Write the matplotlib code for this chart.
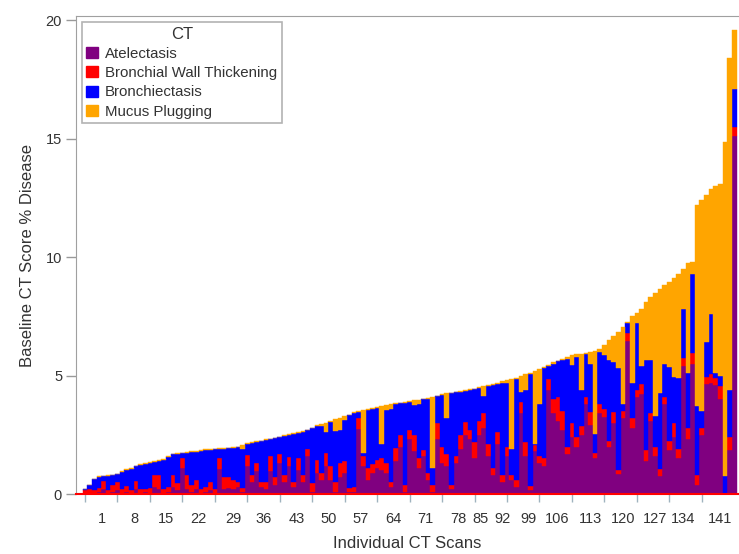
import numpy as np
import matplotlib.pyplot as plt
from matplotlib.patches import Patch

plt.rcParams['font.family'] = 'Liberation Sans'

# stacked components per CT scan (sorted by total), % disease
atelectasis = [
    0, .05, .05, .1, .2, .05, .1, .15, .05, .1,
    .05, .2, .05, .1, .05, .3, .2, .05, .1, .3,
    .15, 1.1, .2, .1, .2, .05, .1, .15, .05, 1.05,
    .2, .25, .2, .3, .1, 1.2, .5, .95, .3, .2,
    .95, .4, 1.3, .5, 1.2, .3, 1.0, .5, 1.6, .1,
    .9, .6, 1.2, .6, .1, .7, .9, .1, .1, 2.75,
    1.2, .6, .9, 1.1, 1.0, .9, .3, 1.4, 2.0, .1,
    2.3, 1.8, 1.1, 1.6, .6, .1, 2.3, 1.3, 1.2, .2,
    1.3, 1.9, 2.5, 2.3, 1.5, 2.5, 2.8, 1.6, .8, 2.1,
    .5, 1.6, .6, .3, 3.4, 1.6, .15, 1.8, 1.3, 1.2,
    4.4, 3.4, 3.1, 2.7, 1.7, 2.4, 2.0, 2.5, 3.8, 2.9,
    1.5, 3.4, 3.25, 2.0, 3.0, .85, 3.2, 6.45, 2.8, 4.1,
    4.2, 1.4, 3.1, 1.6, .75, 3.8, 1.85, 2.4, 1.5, 5.4,
    2.3, 5.5, .4, 2.5, 4.65, 4.7, 4.6, 4.0, 0, 1.85, 15.1,
]
wall_thickening = [
    .15, .15, .1, .15, .35, .1, .3, .35, .15, .25,
    .1, .35, .15, .1, .2, .5, .6, .15, .2, .5,
    .3, .4, .6, .3, .4, .15, .2, .35, .15, .45,
    .5, .45, .4, .2, .15, .45, .3, .35, .2, .3,
    .65, .3, .4, .3, .35, .2, .5, .3, .3, .35,
    .55, .3, .55, .6, .4, .6, .5, .15, .2, .45,
    .4, .5, .35, .35, .5, .4, .2, .55, .5, .3,
    .4, .7, .4, .25, .3, .3, .7, .7, .5, .2,
    .3, .6, .55, .4, .7, .6, .6, .5, .3, .5,
    .3, .4, .2, .3, .5, .6, .2, .25, .3, .3,
    .45, .6, 1.0, .8, .3, .6, .4, .35, .3, .55,
    .25, .4, .35, .25, .45, .15, .3, .35, .4, .3,
    .45, .45, .3, .4, .3, .3, .4, .6, .4, .35,
    .5, .45, .4, .3, .3, .35, .3, .55, .05, .55, .4,
]
bronchiectasis = [
    .05, .2, .5, .45, .2, .62, .4, .33, .72, .65,
    .9, .62, 1.02, 1.07, 1.07, .57, .6, 1.25, 1.27, .87,
    1.24, .22, .95, 1.37, 1.19, 1.62, 1.55, 1.37, 1.69, .4,
    1.22, 1.23, 1.35, 1.47, 1.65, .47, 1.37, .89, 1.72, 1.77,
    .7, 1.65, .69, 1.65, .94, 2.03, 1.07, 1.82, .79, 2.32,
    1.42, 1.95, .85, 1.83, 2.15, 1.4, 1.73, 3.07, 3.12, .27,
    .15, 2.45, 2.34, 2.18, .6, 2.25, 3.1, 1.84, 1.32, 3.45,
    1.19, 1.25, 2.28, 2.14, 3.12, .7, 1.12, 2.17, 1.5, 3.85,
    2.69, 1.82, 1.3, 1.69, 2.22, 1.37, .75, 2.45, 3.52, 2.05,
    3.9, 2.7, 1.1, 4.25, .4, 2.2, 4.72, .05, 2.2, 3.8,
    .55, 1.5, 1.5, 2.15, 3.7, 2.45, 3.4, 1.55, 1.8, 2.05,
    .8, 2.2, 2.25, 3.4, 2.1, 4.3, .3, .4, 1.5, 2.8,
    .75, 3.8, 2.25, 1.3, 3.2, 1.4, 3.1, 1.95, 3.0, 2.05,
    2.3, 3.35, 2.9, .7, 1.45, 2.55, .2, .45, .7, 2.0, 1.6,
]
mucus_plugging = [
    0, 0, 0, .05, .03, .03, .02, .02, .03, .05,
    .05, .03, .03, .03, .03, .03, .03, .03, .03, .03,
    .03, .03, .03, .03, .03, .03, .03, .03, .03, .03,
    .03, .03, .03, .03, .15, .03, .03, .03, .03, .03,
    .03, .03, .03, .03, .03, .03, .03, .03, .03, .03,
    .03, .1, .4, .05, .5, .5, .15, .03, .03, .03,
    1.8, .03, .03, .03, 1.62, .2, .2, .03, .03, .03,
    .03, .2, .2, .03, .03, 3.0, .03, .03, 1.05, .03,
    .03, .03, .03, .03, .03, .03, .4, .05, .03, .05,
    .05, .1, 2.95, .05, .68, .65, .05, 3.1, 1.48, .05,
    .05, .05, .02, .05, .08, .4, .1, 1.52, .05, .5,
    3.5, .1, .45, .85, 1.1, 1.55, 3.25, .05, 2.8, .45,
    2.4, 2.45, 2.65, 5.2, 4.4, 3.3, 3.6, 4.15, 4.4, 1.7,
    4.65, .5, 8.5, 8.9, 6.2, 5.25, 7.9, 8.1, 14.1, 14.0, 2.5,
]

categories = ['Atelectasis', 'Bronchial Wall Thickening', 'Bronchiectasis', 'Mucus Plugging']
colors = ['#800080', '#ff0000', '#0000ff', '#ffa500']
tick_labels = [str(i) for i in range(1, 142, 7)]

# layout: where the original puts its tick labels (bar units) and tick marks
label_pos = [4.7, 11.6, 18.5, 25.4, 32.9, 39.6, 46.7, 53.6, 60.5, 67.6, 74.5,
             81.6, 86.2, 91.1, 96.7, 102.8, 109.9, 117.0, 123.9, 129.9, 137.9]
mark_pos = list(range(1, 135, 7))

scan = np.arange(1, len(atelectasis) + 1)

fig = plt.figure(figsize=(7.39, 5.54), dpi=100)
ax = fig.add_axes([0.1028, 0.1083, 0.8958, 0.8628])

bottom = np.zeros(len(scan))
for vals, col in zip([atelectasis, wall_thickening, bronchiectasis, mucus_plugging], colors):
    vals = np.array(vals)
    ax.bar(scan, vals, width=1.0, bottom=bottom, color=col, edgecolor=col, linewidth=0.3)
    bottom += vals

ax.set_xlim(-0.94, 141.8)
ax.set_ylim(0, 20.17)
ax.set_yticks([0, 5, 10, 15, 20])

ax.set_xticks(label_pos, tick_labels)
ax.set_xticks(mark_pos, minor=True)
ax.tick_params(axis='x', which='major', length=0, pad=13, labelsize=10.5, labelcolor='#333333')
ax.tick_params(axis='x', which='minor', length=6, width=1, color='#9fb3bf')
ax.tick_params(axis='y', length=7, width=1, color='#999999', labelsize=10.5, labelcolor='#333333', pad=3)

for s in ['left', 'top']:
    ax.spines[s].set_color('#a0a0a0')
ax.spines['right'].set_visible(False)
ax.spines['bottom'].set_color('#ff0000')
ax.spines['bottom'].set_linewidth(1.5)

ax.set_xlabel('Individual CT Scans', fontsize=12, color='#333333', labelpad=7)
ax.set_ylabel('Baseline CT Score % Disease', fontsize=12, color='#333333', labelpad=8)

handles = [Patch(facecolor=c, edgecolor=c, label=n) for c, n in zip(colors, categories)]
leg = ax.legend(handles=handles, title='CT', loc='upper left', bbox_to_anchor=(0.009, 0.987),
                borderaxespad=0, fontsize=10.8, title_fontsize=12, frameon=True, fancybox=False,
                edgecolor='#a0a0a0', handlelength=0.75, handleheight=0.75, handletextpad=0.5,
                labelspacing=0.35, borderpad=0.3)
leg.get_frame().set_linewidth(1.2)
leg.get_title().set_color('#333333')
for t in leg.get_texts():
    t.set_color('#333333')

fig.savefig('out.png', dpi=100)
